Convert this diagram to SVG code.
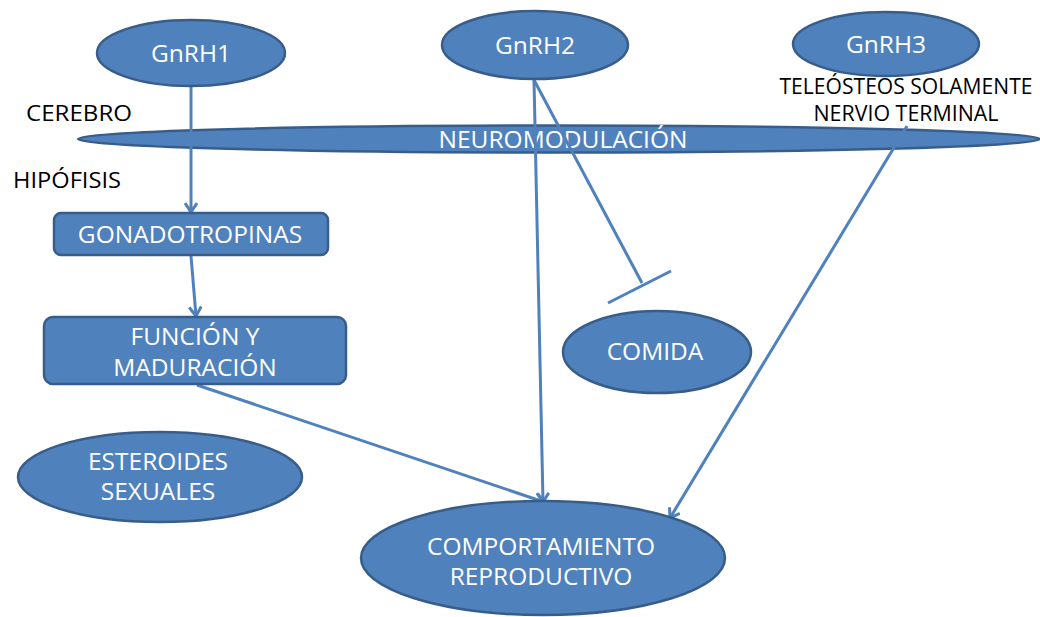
<svg xmlns="http://www.w3.org/2000/svg" width="1040" height="617" viewBox="0 0 1040 617">
<style>
.n{fill:#4F81BD;stroke:#385D8A;stroke-width:2.5}
.t{font-family:"Open Sans","Liberation Sans",sans-serif;font-size:24.5px;fill:#fff;text-anchor:middle}
.b{font-family:"Open Sans","Liberation Sans",sans-serif;font-size:21px;fill:#000;text-anchor:middle}
.c{stroke:#4F81BD;stroke-width:3;fill:none}
</style>
<defs>
<marker id="ah" markerWidth="14" markerHeight="14" refX="11" refY="7" orient="auto" markerUnits="userSpaceOnUse">
<path d="M2,1 L11,7 L2,13" fill="none" stroke="#4F81BD" stroke-width="3"/>
</marker>
</defs>
<rect width="1040" height="617" fill="#fff"/>
<g id="neuromodulacion">
<ellipse class="n" cx="559" cy="139" rx="481" ry="13.5"/>
<text class="t" x="563" y="148">NEUROMODULACIÓN</text>
</g>
<g id="labels">
<text class="b" x="79" y="121" font-size="23" textLength="106" lengthAdjust="spacingAndGlyphs">CEREBRO</text>
<text class="b" x="67" y="188" font-size="23" textLength="108" lengthAdjust="spacingAndGlyphs">HIPÓFISIS</text>
</g>
<g id="teleosteos">
<text class="b" x="906" y="94" textLength="253" lengthAdjust="spacingAndGlyphs">TELEÓSTEOS SOLAMENTE</text>
<text class="b" x="906" y="121" textLength="185" lengthAdjust="spacingAndGlyphs">NERVIO TERMINAL</text>
</g>
<g id="connectors">
<line class="c" x1="191" y1="86" x2="191" y2="212" marker-end="url(#ah)"/>
<line class="c" x1="191" y1="256" x2="196" y2="316" marker-end="url(#ah)"/>
<line class="c" x1="197" y1="385" x2="544" y2="502" marker-end="url(#ah)"/>
<line class="c" x1="534" y1="80" x2="543" y2="502" marker-end="url(#ah)"/>
<line class="c" x1="534" y1="80" x2="642" y2="283"/>
<line class="c" x1="608" y1="303" x2="671" y2="271"/>
<line class="c" x1="907" y1="126" x2="670" y2="518" marker-end="url(#ah)"/>
</g>
<g id="gnrh1">
<ellipse class="n" cx="191" cy="53" rx="94" ry="33"/>
<text class="t" x="191" y="62">GnRH1</text>
</g>
<g id="gnrh2">
<ellipse class="n" cx="535" cy="45" rx="93" ry="34"/>
<text class="t" x="535" y="54">GnRH2</text>
</g>
<g id="gnrh3">
<ellipse class="n" cx="886" cy="44" rx="93" ry="32"/>
<text class="t" x="886" y="53">GnRH3</text>
</g>
<g id="gonadotropinas">
<rect class="n" x="54" y="213" width="274" height="42" rx="7"/>
<text class="t" x="190" y="243">GONADOTROPINAS</text>
</g>
<g id="funcion">
<rect class="n" x="44" y="317" width="302" height="67" rx="9"/>
<text class="t" x="195" y="345">FUNCIÓN Y</text>
<text class="t" x="195" y="376">MADURACIÓN</text>
</g>
<g id="comida">
<ellipse class="n" cx="657" cy="352" rx="94" ry="41"/>
<text class="t" x="655" y="360">COMIDA</text>
</g>
<g id="esteroides">
<ellipse class="n" cx="160" cy="477" rx="142" ry="45"/>
<text class="t" x="158" y="470">ESTEROIDES</text>
<text class="t" x="158" y="500">SEXUALES</text>
</g>
<g id="comportamiento">
<ellipse class="n" cx="543" cy="558" rx="182" ry="57"/>
<text class="t" x="541" y="555">COMPORTAMIENTO</text>
<text class="t" x="541" y="585">REPRODUCTIVO</text>
</g>
</svg>
